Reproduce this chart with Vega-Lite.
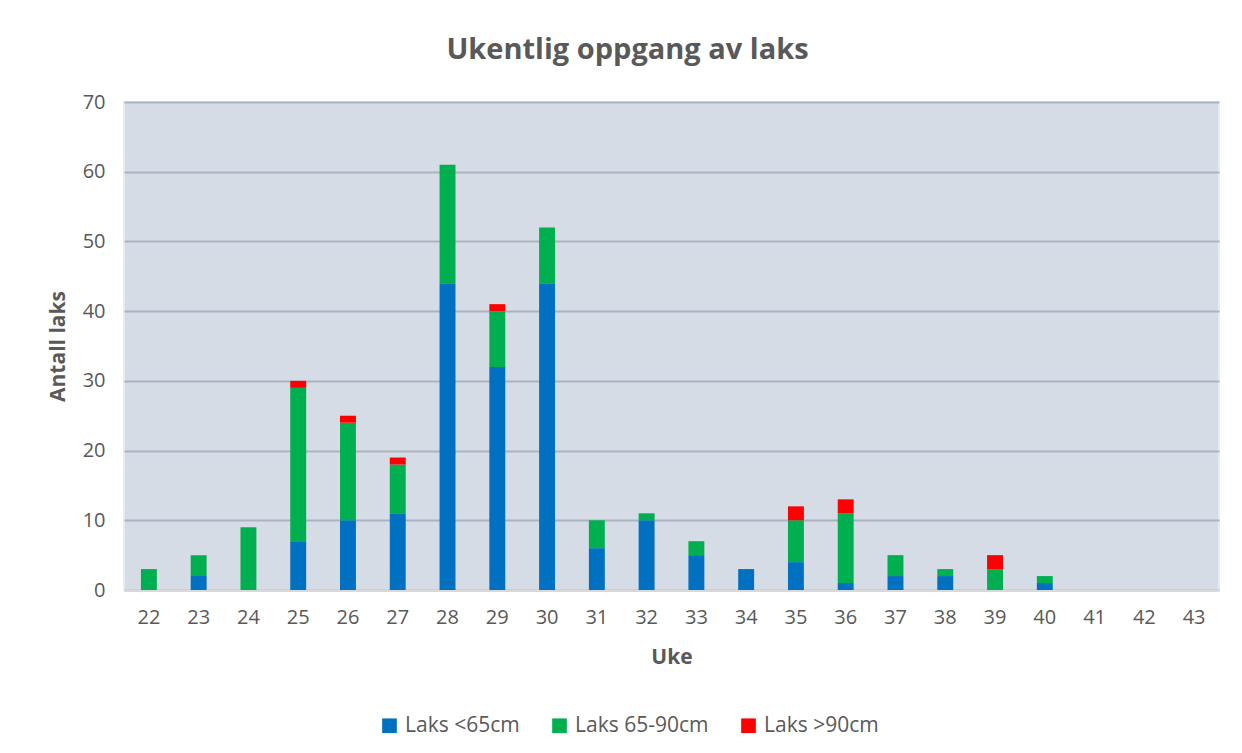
{
  "$schema": "https://vega.github.io/schema/vega-lite/v6.json",
  "autosize": {"type": "none"},
  "width": 1095,
  "height": 488,
  "padding": {"left": 124, "top": 102, "right": 23, "bottom": 163},
  "background": "white",
  "title": {
    "text": "Ukentlig oppgang av laks",
    "font": "Open Sans",
    "fontSize": 29,
    "fontWeight": "bold",
    "color": "#595959",
    "offset": 27,
    "dx": -44
  },
  "data": {
    "values": [
      {"uke": "22", "kategori": "Laks <65cm", "ord": 1, "antall": 0},
      {"uke": "22", "kategori": "Laks 65-90cm", "ord": 2, "antall": 3},
      {"uke": "22", "kategori": "Laks >90cm", "ord": 3, "antall": 0},
      {"uke": "23", "kategori": "Laks <65cm", "ord": 1, "antall": 2},
      {"uke": "23", "kategori": "Laks 65-90cm", "ord": 2, "antall": 3},
      {"uke": "23", "kategori": "Laks >90cm", "ord": 3, "antall": 0},
      {"uke": "24", "kategori": "Laks <65cm", "ord": 1, "antall": 0},
      {"uke": "24", "kategori": "Laks 65-90cm", "ord": 2, "antall": 9},
      {"uke": "24", "kategori": "Laks >90cm", "ord": 3, "antall": 0},
      {"uke": "25", "kategori": "Laks <65cm", "ord": 1, "antall": 7},
      {"uke": "25", "kategori": "Laks 65-90cm", "ord": 2, "antall": 22},
      {"uke": "25", "kategori": "Laks >90cm", "ord": 3, "antall": 1},
      {"uke": "26", "kategori": "Laks <65cm", "ord": 1, "antall": 10},
      {"uke": "26", "kategori": "Laks 65-90cm", "ord": 2, "antall": 14},
      {"uke": "26", "kategori": "Laks >90cm", "ord": 3, "antall": 1},
      {"uke": "27", "kategori": "Laks <65cm", "ord": 1, "antall": 11},
      {"uke": "27", "kategori": "Laks 65-90cm", "ord": 2, "antall": 7},
      {"uke": "27", "kategori": "Laks >90cm", "ord": 3, "antall": 1},
      {"uke": "28", "kategori": "Laks <65cm", "ord": 1, "antall": 44},
      {"uke": "28", "kategori": "Laks 65-90cm", "ord": 2, "antall": 17},
      {"uke": "28", "kategori": "Laks >90cm", "ord": 3, "antall": 0},
      {"uke": "29", "kategori": "Laks <65cm", "ord": 1, "antall": 32},
      {"uke": "29", "kategori": "Laks 65-90cm", "ord": 2, "antall": 8},
      {"uke": "29", "kategori": "Laks >90cm", "ord": 3, "antall": 1},
      {"uke": "30", "kategori": "Laks <65cm", "ord": 1, "antall": 44},
      {"uke": "30", "kategori": "Laks 65-90cm", "ord": 2, "antall": 8},
      {"uke": "30", "kategori": "Laks >90cm", "ord": 3, "antall": 0},
      {"uke": "31", "kategori": "Laks <65cm", "ord": 1, "antall": 6},
      {"uke": "31", "kategori": "Laks 65-90cm", "ord": 2, "antall": 4},
      {"uke": "31", "kategori": "Laks >90cm", "ord": 3, "antall": 0},
      {"uke": "32", "kategori": "Laks <65cm", "ord": 1, "antall": 10},
      {"uke": "32", "kategori": "Laks 65-90cm", "ord": 2, "antall": 1},
      {"uke": "32", "kategori": "Laks >90cm", "ord": 3, "antall": 0},
      {"uke": "33", "kategori": "Laks <65cm", "ord": 1, "antall": 5},
      {"uke": "33", "kategori": "Laks 65-90cm", "ord": 2, "antall": 2},
      {"uke": "33", "kategori": "Laks >90cm", "ord": 3, "antall": 0},
      {"uke": "34", "kategori": "Laks <65cm", "ord": 1, "antall": 3},
      {"uke": "34", "kategori": "Laks 65-90cm", "ord": 2, "antall": 0},
      {"uke": "34", "kategori": "Laks >90cm", "ord": 3, "antall": 0},
      {"uke": "35", "kategori": "Laks <65cm", "ord": 1, "antall": 4},
      {"uke": "35", "kategori": "Laks 65-90cm", "ord": 2, "antall": 6},
      {"uke": "35", "kategori": "Laks >90cm", "ord": 3, "antall": 2},
      {"uke": "36", "kategori": "Laks <65cm", "ord": 1, "antall": 1},
      {"uke": "36", "kategori": "Laks 65-90cm", "ord": 2, "antall": 10},
      {"uke": "36", "kategori": "Laks >90cm", "ord": 3, "antall": 2},
      {"uke": "37", "kategori": "Laks <65cm", "ord": 1, "antall": 2},
      {"uke": "37", "kategori": "Laks 65-90cm", "ord": 2, "antall": 3},
      {"uke": "37", "kategori": "Laks >90cm", "ord": 3, "antall": 0},
      {"uke": "38", "kategori": "Laks <65cm", "ord": 1, "antall": 2},
      {"uke": "38", "kategori": "Laks 65-90cm", "ord": 2, "antall": 1},
      {"uke": "38", "kategori": "Laks >90cm", "ord": 3, "antall": 0},
      {"uke": "39", "kategori": "Laks <65cm", "ord": 1, "antall": 0},
      {"uke": "39", "kategori": "Laks 65-90cm", "ord": 2, "antall": 3},
      {"uke": "39", "kategori": "Laks >90cm", "ord": 3, "antall": 2},
      {"uke": "40", "kategori": "Laks <65cm", "ord": 1, "antall": 1},
      {"uke": "40", "kategori": "Laks 65-90cm", "ord": 2, "antall": 1},
      {"uke": "40", "kategori": "Laks >90cm", "ord": 3, "antall": 0},
      {"uke": "41", "kategori": "Laks <65cm", "ord": 1, "antall": 0},
      {"uke": "41", "kategori": "Laks 65-90cm", "ord": 2, "antall": 0},
      {"uke": "41", "kategori": "Laks >90cm", "ord": 3, "antall": 0},
      {"uke": "42", "kategori": "Laks <65cm", "ord": 1, "antall": 0},
      {"uke": "42", "kategori": "Laks 65-90cm", "ord": 2, "antall": 0},
      {"uke": "42", "kategori": "Laks >90cm", "ord": 3, "antall": 0},
      {"uke": "43", "kategori": "Laks <65cm", "ord": 1, "antall": 0},
      {"uke": "43", "kategori": "Laks 65-90cm", "ord": 2, "antall": 0},
      {"uke": "43", "kategori": "Laks >90cm", "ord": 3, "antall": 0}
    ]
  },
  "mark": {"type": "bar", "stroke": null},
  "encoding": {
    "x": {
      "field": "uke",
      "type": "ordinal",
      "sort": null,
      "scale": {"paddingInner": 0.68, "paddingOuter": 0.34},
      "axis": {
        "title": "Uke",
        "labelAngle": 0,
        "labelFont": "Open Sans",
        "labelFontSize": 20,
        "labelColor": "#595959",
        "labelPadding": 17,
        "ticks": false,
        "domain": true,
        "domainColor": "#d9d9d9",
        "domainWidth": 1,
        "grid": false,
        "titleFont": "Open Sans",
        "titleFontSize": 21,
        "titleFontWeight": "bold",
        "titleColor": "#595959",
        "titlePadding": 19
      }
    },
    "y": {
      "field": "antall",
      "type": "quantitative",
      "stack": "zero",
      "scale": {"domain": [0, 70], "nice": false},
      "axis": {
        "title": "Antall laks",
        "values": [0, 10, 20, 30, 40, 50, 60, 70],
        "labelFont": "Open Sans",
        "labelFontSize": 20,
        "labelColor": "#595959",
        "labelPadding": 19,
        "ticks": false,
        "domain": false,
        "grid": true,
        "gridColor": "#a9b3c4",
        "gridWidth": 2,
        "titleFont": "Open Sans",
        "titleFontSize": 21,
        "titleFontWeight": "bold",
        "titleColor": "#595959",
        "titlePadding": 14
      }
    },
    "color": {
      "field": "kategori",
      "type": "nominal",
      "scale": {
        "domain": ["Laks <65cm", "Laks 65-90cm", "Laks >90cm"],
        "range": ["#0070c0", "#00b050", "#ff0000"]
      },
      "legend": {
        "title": null,
        "orient": "none",
        "direction": "horizontal",
        "legendX": 255,
        "legendY": 613,
        "symbolType": "square",
        "symbolSize": 215,
        "symbolStrokeWidth": 0,
        "symbolOpacity": 1,
        "labelFont": "Open Sans",
        "labelFontSize": 21,
        "labelColor": "#595959",
        "labelOffset": 5,
        "columnPadding": 29
      }
    },
    "order": {"field": "ord", "type": "quantitative", "sort": "ascending"}
  },
  "config": {
    "view": {"fill": "#d6dce5", "stroke": "#e8ecf2", "strokeWidth": 2},
    "axis": {"gridOpacity": 1}
  }
}
